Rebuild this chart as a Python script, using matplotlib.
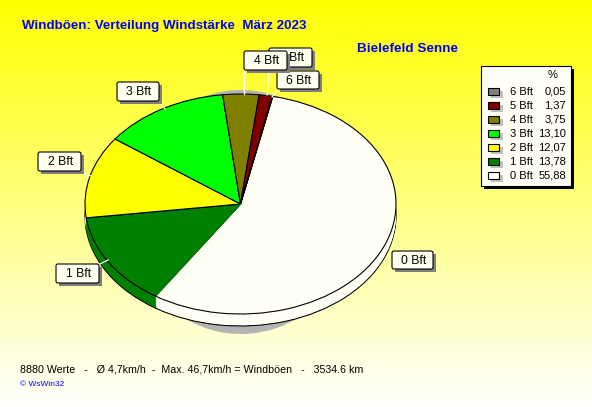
#!/usr/bin/env python3
import numpy as np
import matplotlib
matplotlib.use("Agg")
import matplotlib.pyplot as plt
from matplotlib.patches import FancyBboxPatch, Rectangle

plt.rcParams['font.family'] = ['Liberation Sans', 'DejaVu Sans']

labels = ["0 Bft", "1 Bft", "2 Bft", "3 Bft", "4 Bft", "5 Bft", "6 Bft"]
shares = [55.88, 13.78, 12.07, 13.10, 3.75, 1.37, 0.05]
share_text = ["55,88", "13,78", "12,07", "13,10", "3,75", "1,37", "0,05"]
colors = ["#fffff5", "#008000", "#ffff00", "#00ff00", "#808000", "#800000", "#808080"]

W, H = 592, 407
CX, CY, RX, RY, DEPTH = 240.5, 204, 155.5, 110, 12
START = 78

fig = plt.figure(figsize=(W / 100, H / 100), dpi=100)

# background and overlay share one pixel axes
bg = fig.add_axes([0, 0, 1, 1], zorder=0)
bg.set_xlim(0, W)
bg.set_ylim(H, 0)
bg.axis('off')
grad = np.linspace(0, 1, H).reshape(-1, 1)
grad = np.dstack([np.ones_like(grad), np.ones_like(grad), grad])
bg.imshow(grad, extent=[0, W, H, 0], aspect='auto', zorder=0)


def pie_axes(zorder, cx=CX, cy=CY, rx=RX, ry=RY):
    return fig.add_axes([(cx - rx) / W, 1 - (cy + ry) / H, 2 * rx / W, 2 * ry / H], zorder=zorder)


def draw_pie(a, cols, y, edge, lw):
    a.pie(shares, colors=cols, startangle=START, counterclock=False, radius=1, center=(0, y),
          wedgeprops=dict(edgecolor=edge, linewidth=lw))
    a.set_aspect('auto')
    a.set_xlim(-1, 1)
    a.set_ylim(-1, 1)
    for p in a.patches:
        p.set_clip_on(False)


# shadow, narrower than the pie, only shows at top and bottom
sh = pie_axes(1, 241, 212, 115, 122)
draw_pie(sh, ["#b4b4b4"] * 7, 0, 'none', 0)

# side of the pie: lower outline first, then filler steps
low = pie_axes(2)
draw_pie(low, colors, -DEPTH / RY, 'black', 0.8)
for d in range(DEPTH - 1, 0, -1):
    step = pie_axes(2 + (DEPTH - d) * 0.01)
    draw_pie(step, colors, -d / RY, 'none', 0)

top = pie_axes(3)
draw_pie(top, colors, 0, 'black', 0.8)

# white/green border has no black line in the original
ang = np.radians(START - 3.6 * shares[0])
top.plot([0, 0.985 * np.cos(ang)], [0, 0.985 * np.sin(ang)], color='#008000', lw=1.1, zorder=10)
top.set_xlim(-1, 1)
top.set_ylim(-1, 1)

ov = fig.add_axes([0, 0, 1, 1], zorder=5)
ov.set_xlim(0, W)
ov.set_ylim(H, 0)
ov.axis('off')

# leader lines in white
leaders = [(272, 97, 278, 90), (267, 95, 269, 70), (243.5, 94, 243.5, 70),
           (108, 260, 98, 265), (165, 109, 159, 101), (91, 176, 81, 172)]
for x0, y0, x1, y1 in leaders:
    ov.plot([x0, x1], [y0, y1], color='white', lw=0.9, zorder=6)


def box(x0, y0, x1, y1, text, z):
    ov.add_patch(Rectangle((x0 + 3, y0 + 3), x1 - x0, y1 - y0, color='#808080', lw=0, zorder=z))
    ov.add_patch(FancyBboxPatch((x0 + 1, y0 + 1), x1 - x0 - 2, y1 - y0 - 2,
                                boxstyle="round,pad=1,rounding_size=2",
                                fc='#fffff0', ec='black', lw=0.8, zorder=z + 0.1))
    ov.text((x0 + x1) / 2 + 1, (y0 + y1) / 2 + 0.5, text, ha='center', va='center',
            fontsize=8.8, color='black', zorder=z + 0.2)


box(269, 48, 312, 67, "5 Bft", 7)
box(244, 51, 287, 70, "4 Bft", 8)
box(277, 71, 319, 89, "6 Bft", 7.5)
box(117, 82, 159, 101, "3 Bft", 7)
box(38, 152, 81, 171, "2 Bft", 7)
box(56, 264, 99, 283, "1 Bft", 7)
box(392, 251, 433, 269, "0 Bft", 7)

# titles
ov.text(22, 26, "Windböen: Verteilung Windstärke  März 2023", color='#0000ff',
        fontsize=9.6, fontweight='bold', va='center', ha='left')
ov.text(357, 49, "Bielefeld Senne", color='#0000ff', fontsize=9.7, fontweight='bold',
        va='center', ha='left')

# legend
ov.add_patch(Rectangle((484, 69), 90, 120, color='black', lw=0, zorder=6))
ov.add_patch(Rectangle((480.5, 65.5), 90, 120, fc='#fffff5', ec='black', lw=0.8, zorder=7))
ov.text(553, 75, "%", fontsize=8, ha='center', va='center', zorder=8)
for i in range(len(labels)):
    k = len(labels) - 1 - i
    y = 92 + i * 14
    ov.add_patch(Rectangle((491, y - 1), 12, 7, color='#c0c0c0', lw=0, zorder=7.5))
    ov.add_patch(Rectangle((487.5, y - 4), 11, 7, fc=colors[k], ec='black', lw=0.8, zorder=7.6))
    ov.text(510, y, labels[k], fontsize=8, ha='left', va='center', zorder=8)
    ov.text(566, y, share_text[k], fontsize=8, ha='right', va='center', zorder=8)

# footer
ov.text(20, 369, "8880 Werte   -   Ø 4,7km/h  -  Max. 46,7km/h = Windböen   -   3534.6 km",
        fontsize=7.7, va='center', ha='left', color='black')
ov.text(20, 385, "© WsWin32", fontsize=6, va='center', ha='left', color='#0000ff')

fig.savefig("out.png", dpi=100)
